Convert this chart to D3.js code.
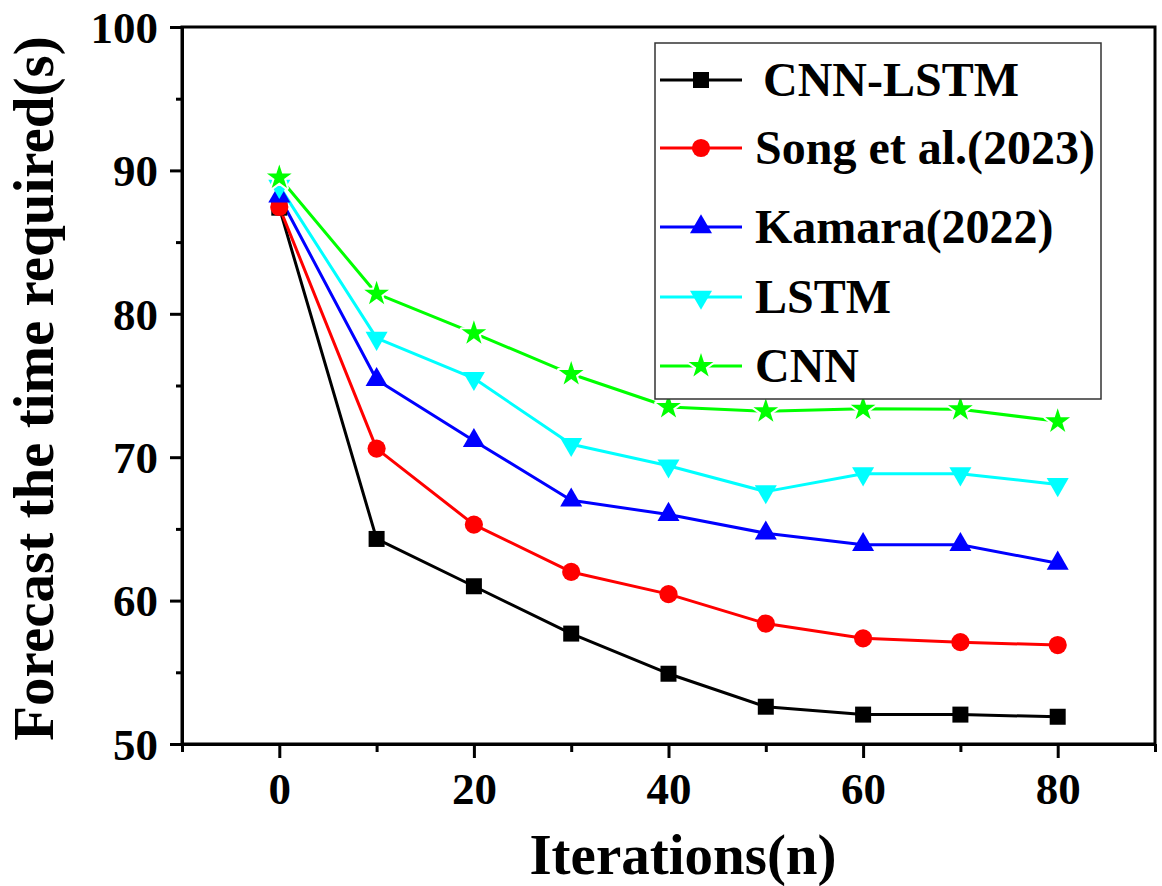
<!DOCTYPE html>
<html><head><meta charset="utf-8">
<script src="https://cdn.jsdelivr.net/npm/d3@7"></script>
<style>
html,body{margin:0;padding:0;background:#fff;}
svg{display:block;}
text{font-family:"Liberation Serif","Times New Roman",serif;font-weight:bold;fill:#000;}
</style></head>
<body>
<script>
const iterations = [0, 10, 20, 30, 40, 50, 60, 70, 80];
const seriesNames = ["CNN-LSTM", "Song et al.(2023)", "Kamara(2022)", "LSTM", "CNN"];
const cnnLstm = [87.4, 64.3, 61.0, 57.7, 54.9, 52.6, 52.05, 52.05, 51.9];
const song    = [87.45, 70.6, 65.3, 62.0, 60.45, 58.4, 57.37, 57.1, 56.9];
const kamara  = [88.2, 75.4, 71.15, 67.0, 66.0, 64.7, 63.9, 63.9, 62.6];
const lstm    = [88.9, 78.3, 75.5, 70.9, 69.4, 67.6, 68.85, 68.85, 68.1];
const cnn     = [89.5, 81.4, 78.65, 75.8, 73.5, 73.2, 73.38, 73.35, 72.5];
const colors  = ["#000000", "#ff0000", "#0000ff", "#00ffff", "#00ff00"];
const markers = ["square", "circle", "triUp", "triDown", "star"];
const xTicks = [0, 20, 40, 60, 80];
const xMinorTicks = [-10, 10, 30, 50, 70, 90];
const yTicks = [50, 60, 70, 80, 90, 100];
const yMinorTicks = [55, 65, 75, 85, 95];
const xLabel = "Iterations(n)";
const yLabel = "Forecast the time required(s)";

const allValues = [cnnLstm, song, kamara, lstm, cnn];

const W = 1162, H = 886;
const L = 182, R = 1155, T = 27, B = 744;
const svg = d3.select("body").append("svg").attr("width", W).attr("height", H);

const x = d3.scaleLinear().domain([-10, 90]).range([L, R]);
const y = d3.scaleLinear().domain([50, 100]).range([B, T]);

function markerPath(type) {
  if (type === "square") return d3.symbol(d3.symbolSquare, 256)();
  if (type === "circle") return d3.symbol(d3.symbolCircle, 260)();
  if (type === "triUp" || type === "triDown") return d3.symbol(d3.symbolTriangle, 210)();
  if (type === "star") return d3.symbol(d3.symbolStar, 190)();
}
function drawMarker(g, type, color, cx, cy) {
  const p = g.append("path").attr("d", markerPath(type))
    .attr("transform", `translate(${cx},${cy})` + (type === "triDown" ? " rotate(180)" : ""))
    .attr("fill", color);
  if (type === "star") {
    p.attr("stroke", "#fff").attr("stroke-width", 4).attr("paint-order", "stroke").attr("stroke-linejoin", "round");
  }
}

// frame
svg.append("rect").attr("x", L).attr("y", T).attr("width", R - L).attr("height", B - T)
  .attr("fill", "none").attr("stroke", "#000").attr("stroke-width", 3);

// axes
svg.append("g").attr("transform", `translate(0,${B})`)
  .call(d3.axisBottom(x).tickValues(xTicks).tickSize(14).tickSizeOuter(0).tickPadding(14).tickFormat(d3.format("d")));
svg.append("g").attr("transform", `translate(0,${B})`)
  .call(d3.axisBottom(x).tickValues(xMinorTicks).tickSize(8).tickSizeOuter(0).tickFormat(""))
  .call(g => g.select(".domain").remove());
const yAxis = svg.append("g").attr("transform", `translate(${L},0)`)
  .call(d3.axisLeft(y).tickValues(yTicks).tickSize(12).tickSizeOuter(0).tickPadding(12).tickFormat(d3.format("d")));
svg.append("g").attr("transform", `translate(${L},0)`)
  .call(d3.axisLeft(y).tickValues(yMinorTicks).tickSize(6).tickSizeOuter(0).tickFormat(""))
  .call(g => g.select(".domain").remove());
svg.selectAll(".domain").attr("stroke", "#000").attr("stroke-width", 3);
svg.selectAll(".tick line").attr("stroke", "#000").attr("stroke-width", 3);
svg.selectAll(".tick text").attr("font-size", 45).attr("font-family", "Liberation Serif").attr("font-weight", "bold").attr("fill", "#000");
yAxis.selectAll(".tick text").attr("dy", "0.34em");

// axis titles
svg.append("text").attr("x", 683).attr("y", 874).attr("text-anchor", "middle")
  .attr("font-size", 57).text(xLabel);
svg.append("text").attr("transform", `translate(53,${(T + B) / 2 + 3}) rotate(-90)`).attr("text-anchor", "middle")
  .attr("font-size", 57).text(yLabel);

// series
const line = d3.line().x((d, i) => x(iterations[i])).y(d => y(d));
const plot = svg.append("g");
allValues.forEach((vals, k) => {
  plot.append("path").datum(vals).attr("d", line).attr("fill", "none")
    .attr("stroke", colors[k]).attr("stroke-width", 3).attr("stroke-linejoin", "round");
});
allValues.forEach((vals, k) => {
  vals.forEach((v, i) => drawMarker(plot, markers[k], colors[k], x(iterations[i]), y(v)));
});

// legend
const lg = svg.append("g");
lg.append("rect").attr("x", 655).attr("y", 43).attr("width", 446).attr("height", 356)
  .attr("fill", "#fff").attr("stroke", "#333").attr("stroke-width", 1.5);
const rowY = [80, 148, 227, 297, 366];
seriesNames.forEach((name, k) => {
  const cy = rowY[k];
  lg.append("line").attr("x1", 660).attr("x2", 742).attr("y1", cy).attr("y2", cy)
    .attr("stroke", colors[k]).attr("stroke-width", 3);
  drawMarker(lg, markers[k], colors[k], 701, cy);
  lg.append("text").attr("x", k === 0 ? 763 : 755).attr("y", cy + 16).attr("font-size", 48).text(name);
});
</script>
</body></html>
